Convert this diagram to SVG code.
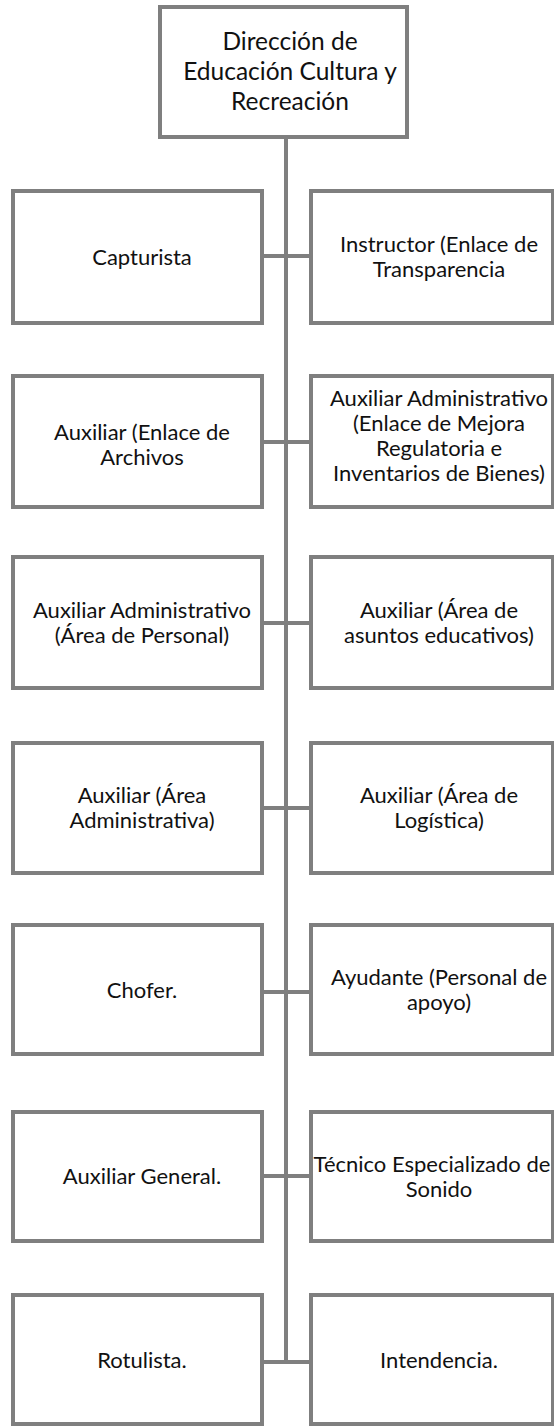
<svg xmlns="http://www.w3.org/2000/svg" width="554" height="1427" viewBox="0 0 554 1427">
<style>
.box{fill:#ffffff;stroke:#7f7f7f;stroke-width:4}
.ln{stroke:#7f7f7f;stroke-width:4;fill:none}
text{font-family:Lato,"Liberation Sans",sans-serif;fill:#111111;text-anchor:middle}
.t{font-size:22px}
.h{font-size:24.5px}
</style>
<rect width="554" height="1427" fill="#ffffff"/>
<g id="connectors">
<line class="ln" x1="286" y1="137" x2="286" y2="1362"/>
<line class="ln" x1="262" y1="256" x2="311" y2="256"/>
<line class="ln" x1="262" y1="442" x2="311" y2="442"/>
<line class="ln" x1="262" y1="623" x2="311" y2="623"/>
<line class="ln" x1="262" y1="808" x2="311" y2="808"/>
<line class="ln" x1="262" y1="992" x2="311" y2="992"/>
<line class="ln" x1="262" y1="1176" x2="311" y2="1176"/>
<line class="ln" x1="262" y1="1362" x2="311" y2="1362"/>
</g>
<g id="n0"><rect class="box" x="160" y="7" width="247" height="130"/>
<text class="h" x="290" y="50">Dirección de</text><text class="h" x="290" y="80">Educación Cultura y</text><text class="h" x="290" y="110">Recreación</text></g>
<g id="n1l"><rect class="box" x="13" y="191" width="249" height="132"/><text class="t" x="142" y="265">Capturista</text></g>
<g id="n1r"><rect class="box" x="311" y="191" width="242" height="132"/><text class="t" x="439" y="252">Instructor (Enlace de</text><text class="t" x="439" y="277">Transparencia</text></g>
<g id="n2l"><rect class="box" x="13" y="376" width="249" height="131"/><text class="t" x="142" y="440">Auxiliar (Enlace de</text><text class="t" x="142" y="465">Archivos</text></g>
<g id="n2r"><rect class="box" x="311" y="376" width="242" height="131"/><text class="t" x="439" y="406">Auxiliar Administrativo</text><text class="t" x="439" y="431">(Enlace de Mejora</text><text class="t" x="439" y="456">Regulatoria e</text><text class="t" x="439" y="481">Inventarios de Bienes)</text></g>
<g id="n3l"><rect class="box" x="13" y="557" width="249" height="131"/><text class="t" x="142" y="618">Auxiliar Administrativo</text><text class="t" x="142" y="643">(Área de Personal)</text></g>
<g id="n3r"><rect class="box" x="311" y="557" width="242" height="131"/><text class="t" x="439" y="618">Auxiliar (Área de</text><text class="t" x="439" y="643">asuntos educativos)</text></g>
<g id="n4l"><rect class="box" x="13" y="743" width="249" height="130"/><text class="t" x="142" y="803">Auxiliar (Área</text><text class="t" x="142" y="828">Administrativa)</text></g>
<g id="n4r"><rect class="box" x="311" y="743" width="242" height="130"/><text class="t" x="439" y="803">Auxiliar (Área de</text><text class="t" x="439" y="828">Logística)</text></g>
<g id="n5l"><rect class="box" x="13" y="925" width="249" height="129"/><text class="t" x="142" y="998">Chofer.</text></g>
<g id="n5r"><rect class="box" x="311" y="925" width="242" height="129"/><text class="t" x="439" y="985">Ayudante (Personal de</text><text class="t" x="439" y="1010">apoyo)</text></g>
<g id="n6l"><rect class="box" x="13" y="1112" width="249" height="129"/><text class="t" x="142" y="1184">Auxiliar General.</text></g>
<g id="n6r"><rect class="box" x="311" y="1112" width="242" height="129"/><text class="t" x="432" y="1172">Técnico Especializado de</text><text class="t" x="439" y="1197">Sonido</text></g>
<g id="n7l"><rect class="box" x="13" y="1295" width="249" height="129"/><text class="t" x="142" y="1368">Rotulista.</text></g>
<g id="n7r"><rect class="box" x="311" y="1295" width="242" height="129"/><text class="t" x="439" y="1368">Intendencia.</text></g>
</svg>
